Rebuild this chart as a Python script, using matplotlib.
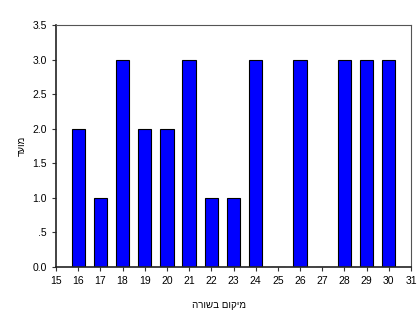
import matplotlib
matplotlib.use("Agg")
import matplotlib.pyplot as plt
from matplotlib.ticker import FuncFormatter

positions = [16, 17, 18, 19, 20, 21, 22, 23, 24, 25, 26, 27, 28, 29, 30]
values = [2, 1, 3, 2, 2, 3, 1, 1, 3, 0, 3, 0, 3, 3, 3]
x_label = "מיקום בשורה"
y_label = "מועד"

def vis(s):
    return s[::-1]

plt.rcParams['font.family'] = ['Liberation Sans', 'DejaVu Sans']
fig = plt.figure(figsize=(4.19, 3.11), dpi=100)
ax = fig.add_axes([56/419, 1-267/311, (411-56)/419, (267-25)/311])

ax.bar(positions, values, width=0.6, color='#0000FF', edgecolor='black', linewidth=0.8, zorder=2)
ax.set_xlim(15, 31)
ax.set_ylim(0, 3.5)
ax.set_xticks(range(15, 32))
ax.set_yticks([0, 0.5, 1, 1.5, 2, 2.5, 3, 3.5])

def fmt(v, pos):
    s = f"{v:.1f}"
    if s.startswith("0.") and v != 0:
        s = s[1:]
    return s
ax.yaxis.set_major_formatter(FuncFormatter(fmt))
ax.tick_params(labelsize=7.5, length=3, width=0.8, colors='#333333')
for lbl in ax.get_xticklabels() + ax.get_yticklabels():
    lbl.set_color('black')
for s in ['top', 'right']:
    ax.spines[s].set_color('#555555')
for s in ['left', 'bottom']:
    ax.spines[s].set_color('#222222')
    ax.spines[s].set_linewidth(1.2)

ax.set_xlabel(vis(x_label), fontsize=7)
ax.set_ylabel(vis(y_label), fontsize=7)
ax.xaxis.set_label_coords(0.46, -0.135)
ax.yaxis.set_label_coords(-0.082, 0.5)

fig.savefig("out.png", dpi=100)
